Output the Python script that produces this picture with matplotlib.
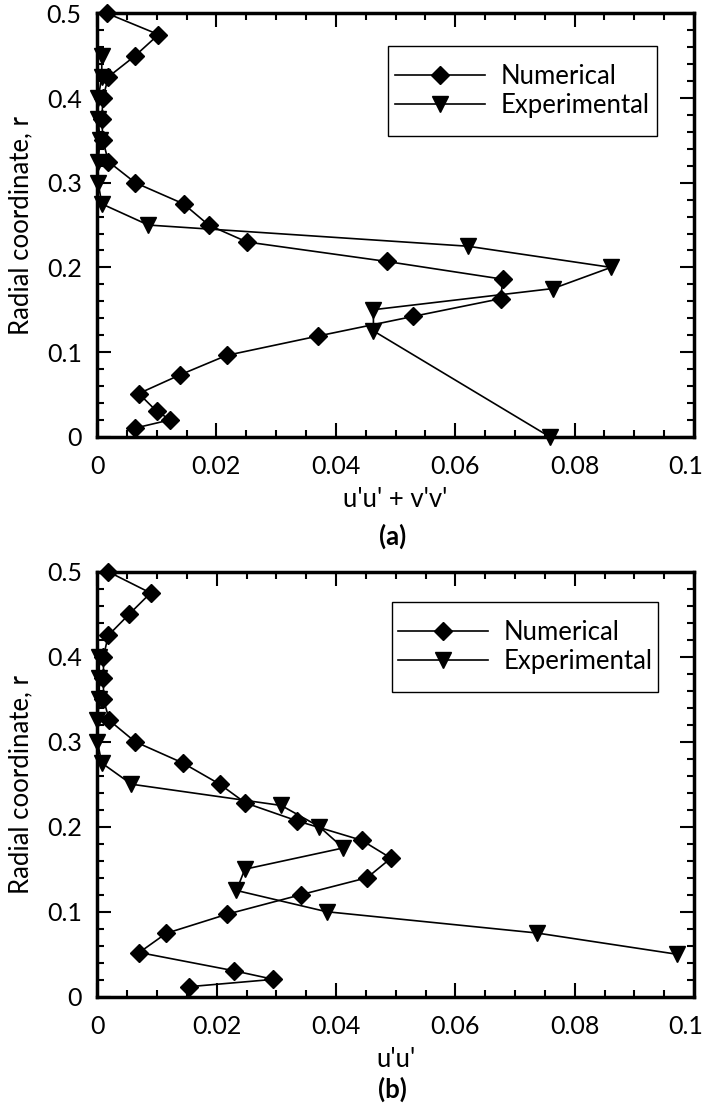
import matplotlib
matplotlib.use('Agg')
import matplotlib.pyplot as plt
from matplotlib.patches import Rectangle
from matplotlib.transforms import ScaledTranslation

plt.rcParams['font.family'] = ['Lato', 'DejaVu Sans']

# panel (a): u'u' + v'v'
num_r_a = [0.5, 0.475, 0.45, 0.425, 0.4, 0.375, 0.35, 0.325, 0.3, 0.275, 0.25, 0.23,
           0.207, 0.186, 0.163, 0.142, 0.119, 0.096, 0.073, 0.051, 0.03, 0.02, 0.01]
num_v_a = [0.0017, 0.0103, 0.0064, 0.0019, 0.001, 0.0008, 0.001, 0.0019, 0.0064, 0.0145,
           0.0187, 0.0251, 0.0485, 0.068, 0.0676, 0.0529, 0.0371, 0.0217, 0.0139, 0.0070,
           0.0100, 0.0123, 0.0063]
exp_r_a = [0.45, 0.425, 0.4, 0.375, 0.35, 0.325, 0.3, 0.275, 0.25, 0.225, 0.2, 0.175,
           0.15, 0.125, 0.0]
exp_v_a = [0.0008, 0.0008, 0.0002, 0.0002, 0.0005, 0.0002, 0.0002, 0.0008, 0.0086, 0.0621,
           0.0861, 0.0764, 0.0463, 0.0463, 0.0758]

# panel (b): u'u'
num_r_b = [0.5, 0.475, 0.45, 0.425, 0.4, 0.375, 0.35, 0.325, 0.3, 0.275, 0.25, 0.228,
           0.207, 0.184, 0.163, 0.14, 0.12, 0.097, 0.0745, 0.052, 0.0305, 0.0204, 0.0118]
num_v_b = [0.0018, 0.0089, 0.0053, 0.0018, 0.001, 0.001, 0.001, 0.002, 0.0063, 0.0143,
           0.0205, 0.0248, 0.0334, 0.0443, 0.0492, 0.0452, 0.0341, 0.0217, 0.0115, 0.0070,
           0.0229, 0.0295, 0.0154]
exp_r_b = [0.4, 0.375, 0.35, 0.325, 0.3, 0.275, 0.25, 0.225, 0.2, 0.175, 0.15, 0.125,
           0.1, 0.075, 0.05]
exp_v_b = [0.0003, 0.0003, 0.0003, 0.0, 0.0, 0.0007, 0.0057, 0.0308, 0.0372, 0.0412,
           0.0247, 0.0233, 0.0384, 0.0736, 0.0971]

xticks = [0, 0.02, 0.04, 0.06, 0.08, 0.1]
xtick_labels = ['0', '0.02', '0.04', '0.06', '0.08', '0.1']
yticks = [0, 0.1, 0.2, 0.3, 0.4, 0.5]
ytick_labels = ['0', '0.1', '0.2', '0.3', '0.4', '0.5']

fig = plt.figure(figsize=(7.06, 11.16), dpi=100)
ax_a = fig.add_axes([0.1374, 0.6087, 0.8456, 0.3793])
ax_b = fig.add_axes([0.1381, 0.1069, 0.8449, 0.3808])

# (axes, x, r, x, r, xlabel, tag, tag y, legend box x0, y0, x1, y1)
panels = [
    (ax_a, num_v_a, num_r_a, exp_v_a, exp_r_a, "u'u' + v'v'", '(a)', 0.519,
     (0.487, 0.710, 0.938, 0.923)),
    (ax_b, num_v_b, num_r_b, exp_v_b, exp_r_b, "u'u'", '(b)', 0.024,
     (0.494, 0.717, 0.940, 0.929)),
]

for ax, nv, nr, ev, er, xlab, tag, ty, box in panels:
    ax.plot(nv, nr, color='black', lw=1.2, marker='D', ms=9, label='Numerical', clip_on=False)
    ax.plot(ev, er, color='black', lw=1.2, marker='v', ms=12, label='Experimental', clip_on=False)
    ax.set_xlim(0, 0.1)
    ax.set_ylim(0, 0.5)
    ax.set_xticks(xticks)
    ax.set_xticklabels(xtick_labels)
    ax.set_yticks(yticks)
    ax.set_yticklabels(ytick_labels)
    ax.set_xticks([i * 0.005 for i in range(21)], minor=True)
    ax.set_yticks([i * 0.02 for i in range(26)], minor=True)
    ax.tick_params(which='both', direction='in', top=True, right=True, width=1.5)
    ax.tick_params(which='major', length=10, labelsize=18, pad=11)
    ax.tick_params(axis='x', which='major', pad=13)
    ax.tick_params(which='minor', length=5)
    # keep the last x label inside the canvas
    lbl = ax.get_xticklabels()[-1]
    lbl.set_transform(lbl.get_transform() + ScaledTranslation(-6 / 72, 0, fig.dpi_scale_trans))
    for s in ax.spines.values():
        s.set_linewidth(2.5)
    ax.set_xlabel(xlab, fontsize=18.5, labelpad=7)
    ax.set_ylabel('Radial coordinate, r', fontsize=18.5, labelpad=10)
    x0, y0, x1, y1 = box
    ax.add_patch(Rectangle((x0, y0), x1 - x0, y1 - y0, transform=ax.transAxes,
                           fill=True, facecolor='white', edgecolor='black', lw=1.0, zorder=4))
    leg = ax.legend(loc='center', bbox_to_anchor=((x0 + x1) / 2, (y0 + y1) / 2), fontsize=18.5,
                    handlelength=3.5, numpoints=1, frameon=False, borderpad=0,
                    labelspacing=0.15, handletextpad=0.6)
    leg.set_zorder(5)
    fig.text(0.556, ty, tag, fontsize=18.5, fontweight='bold', ha='center', va='center')

fig.savefig('out.png', dpi=100)
